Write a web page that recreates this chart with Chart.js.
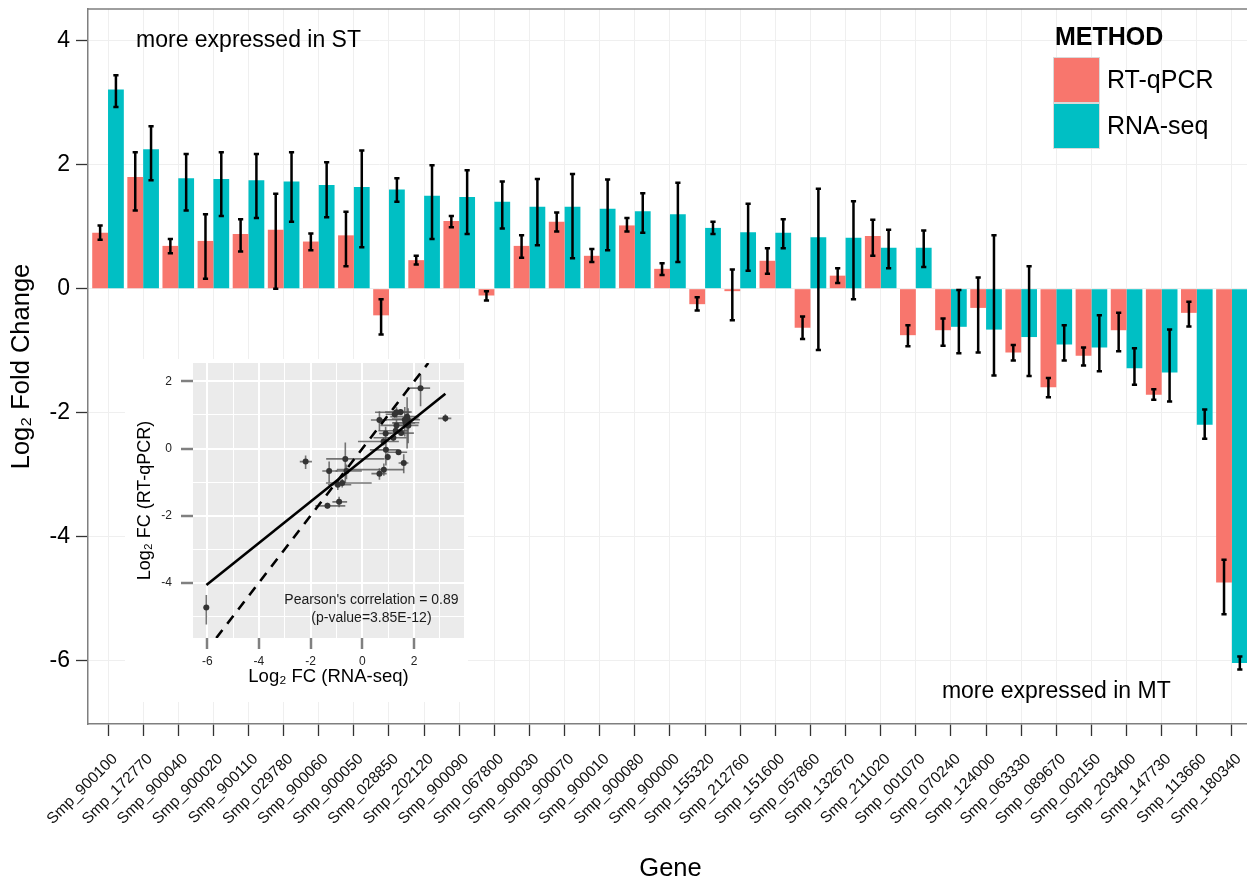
<!DOCTYPE html>
<html><head><meta charset="utf-8">
<script src="https://cdn.jsdelivr.net/npm/chart.js@4/dist/chart.umd.min.js"></script>
<style>
html,body{margin:0;padding:0;background:#fff;overflow:hidden;width:1247px;height:879px;}
#wrap{position:relative;width:1254px;height:879px;}
#main{position:absolute;left:0;top:0;}
#insetBox{position:absolute;left:125px;top:359px;width:343px;height:343px;background:#fff;}
</style></head><body>
<div id="wrap">
<canvas id="main" width="1254" height="879"></canvas>
<div id="insetBox"><canvas id="inset" width="343" height="343"></canvas></div>
</div>
<script>
// ---------- DATA ----------
const genes = ['Smp_900100','Smp_172770','Smp_900040','Smp_900020','Smp_900110','Smp_029780','Smp_900060','Smp_900050','Smp_028850','Smp_202120','Smp_900090','Smp_067800','Smp_900030','Smp_900070','Smp_900010','Smp_900080','Smp_900000','Smp_155320','Smp_212760','Smp_151600','Smp_057860','Smp_132670','Smp_211020','Smp_001070','Smp_070240','Smp_124000','Smp_063330','Smp_089670','Smp_002150','Smp_203400','Smp_147730','Smp_113660','Smp_180340'];

const qpcr     = [0.90, 1.80, 0.69, 0.77, 0.88, 0.95, 0.76, 0.86, -0.43, 0.46, 1.09, -0.11, 0.69, 1.08, 0.53, 1.02, 0.32, -0.25, -0.04, 0.45, -0.63, 0.21, 0.85, -0.75, -0.67, -0.31, -1.03, -1.59, -1.08, -0.67, -1.71, -0.39, -4.74];
const qpcrLow  = [0.79, 1.26, 0.57, 0.16, 0.60, 0.00, 0.62, 0.36, -0.74, 0.39, 0.99, -0.19, 0.50, 0.92, 0.43, 0.92, 0.22, -0.35, -0.51, 0.24, -0.81, 0.09, 0.53, -0.93, -0.92, -1.03, -1.16, -1.75, -1.24, -1.01, -1.79, -0.61, -5.25];
const qpcrHigh = [1.02, 2.20, 0.80, 1.20, 1.12, 1.53, 0.89, 1.24, -0.17, 0.53, 1.17, -0.04, 0.86, 1.23, 0.64, 1.14, 0.41, -0.14, 0.31, 0.65, -0.45, 0.33, 1.11, -0.59, -0.48, 0.18, -0.91, -1.44, -0.95, -0.39, -1.62, -0.21, -4.37];

const rnaseq     = [3.21, 2.25, 1.78, 1.77, 1.75, 1.73, 1.67, 1.64, 1.60, 1.50, 1.48, 1.40, 1.32, 1.32, 1.29, 1.25, 1.20, 0.98, 0.91, 0.90, 0.83, 0.82, 0.66, 0.66, -0.615, -0.66, -0.78, -0.90, -0.95, -1.285, -1.35, -2.195, -6.035];
const rnaseqLow  = [2.93, 1.75, 1.26, 1.17, 1.14, 1.08, 1.15, 0.67, 1.40, 0.80, 0.88, 0.97, 0.70, 0.49, 0.62, 0.90, 0.43, 0.88, 0.29, 0.65, -0.99, -0.17, 0.33, 0.35, -1.04, -1.40, -1.41, -1.16, -1.33, -1.55, -1.82, -2.42, -6.14];
const rnaseqHigh = [3.44, 2.62, 2.17, 2.20, 2.17, 2.20, 2.04, 2.23, 1.78, 1.99, 1.91, 1.73, 1.77, 1.85, 1.76, 1.54, 1.71, 1.08, 1.37, 1.12, 1.61, 1.41, 0.95, 0.94, -0.02, 0.86, 0.36, -0.59, -0.43, -0.96, -0.66, -1.95, -5.93];

const mainYTicks = [-6, -4, -2, 0, 2, 4];
const insetXTicks = [-6, -5, -4, -3, -2, -1, 0, 1, 2, 3];
const insetYTicks = [-5, -4, -3, -2, -1, 0, 1, 2];
const fitLine = [[-6.03, -4.07], [3.21, 1.63]];
const identityLine = [[-5.65, -5.65], [2.55, 2.55]];
const seriesNames = ['RT-qPCR', 'RNA-seq'];

// ---------- STYLE ----------
const FONT = "'Liberation Sans', Arial, Helvetica, sans-serif";
const RED = '#F8766D', CYAN = '#00BFC4';

const noPad = s => { s.paddingTop = 0; s.paddingBottom = 0; s.paddingLeft = 0; s.paddingRight = 0; };

const errorBars = {
  id: 'errorBars',
  afterDatasetsDraw(chart) {
    const {ctx, scales: {y}} = chart;
    ctx.save();
    ctx.strokeStyle = '#000';
    ctx.lineWidth = 2.5;
    chart.data.datasets.forEach((ds, di) => {
      const meta = chart.getDatasetMeta(di);
      meta.data.forEach((el, i) => {
        const lo = y.getPixelForValue(ds.errLow[i]);
        const hi = y.getPixelForValue(ds.errHigh[i]);
        const x = el.x;
        ctx.beginPath();
        ctx.moveTo(x, lo); ctx.lineTo(x, hi);
        ctx.moveTo(x - 2.6, lo); ctx.lineTo(x + 2.6, lo);
        ctx.moveTo(x - 2.6, hi); ctx.lineTo(x + 2.6, hi);
        ctx.stroke();
      });
    });
    ctx.restore();
  }
};

const decor = {
  id: 'decor',
  afterDraw(chart, args, opts) {
    const {ctx, chartArea: a, scales: {x, y}} = chart;
    ctx.save();
    ctx.strokeStyle = '#7F7F7F';
    ctx.lineWidth = 1.5;
    ctx.beginPath();
    ctx.moveTo(a.left, a.top); ctx.lineTo(a.right, a.top); ctx.lineTo(a.right, a.bottom);
    ctx.stroke();
    // annotations
    ctx.fillStyle = '#000';
    ctx.font = '23px ' + FONT;
    ctx.textAlign = 'center';
    ctx.textBaseline = 'middle';
    opts.notes.forEach(n => ctx.fillText(n.text, x.getPixelForValue(n.x), y.getPixelForValue(n.y)));
    // legend
    const L = opts.legend;
    ctx.textAlign = 'left';
    ctx.textBaseline = 'alphabetic';
    ctx.font = 'bold 25px ' + FONT;
    ctx.fillText(L.title, L.x + 2, L.titleY);
    ctx.font = '25px ' + FONT;
    ctx.textBaseline = 'middle';
    chart.data.datasets.forEach((ds, i) => {
      const top = L.y + i * L.h;
      ctx.fillStyle = ds.backgroundColor;
      ctx.fillRect(L.x, top, L.w, L.h);
      ctx.strokeStyle = '#D9D9D9';
      ctx.lineWidth = 1;
      ctx.strokeRect(L.x + 0.5, top + 0.5, L.w - 1, L.h - 1);
      ctx.fillStyle = '#000';
      ctx.fillText(ds.label, L.x + L.w + 7, top + L.h / 2 + 1);
    });
    ctx.restore();
  }
};

new Chart(document.getElementById('main').getContext('2d'), {
  type: 'bar',
  data: {
    datasets: [
      {label: seriesNames[0], data: qpcr.map((v, i) => ({x: i, y: v})), errLow: qpcrLow, errHigh: qpcrHigh, backgroundColor: RED},
      {label: seriesNames[1], data: rnaseq.map((v, i) => ({x: i, y: v})), errLow: rnaseqLow, errHigh: rnaseqHigh, backgroundColor: CYAN}
    ]
  },
  options: {
    responsive: false,
    animation: false,
    layout: {padding: {top: 9, right: 1, left: 0, bottom: 0}},
    datasets: {bar: {categoryPercentage: 0.9, barPercentage: 1.0}},
    plugins: {
      legend: {display: false},
      tooltip: {enabled: false},
      decor: {
        notes: [
          {text: 'more expressed in ST', x: 4, y: 4},
          {text: 'more expressed in MT', x: 27, y: -6.5}
        ],
        legend: {title: 'METHOD', x: 1053, y: 57, w: 47, h: 46, titleY: 45}
      }
    },
    scales: {
      x: {
        type: 'linear', min: -0.57, max: 32.6, offset: false,
        afterBuildTicks: s => { s.ticks = genes.map((g, i) => ({value: i})); },
        afterFit: s => { s.height = 155; noPad(s); },
        grid: {offset: false, color: '#EFEFEF', lineWidth: 1, tickColor: '#333', tickLength: 12, tickWidth: 1.3},
        border: {display: true, color: '#7F7F7F', width: 1.5},
        ticks: {autoSkip: false, minRotation: 45, maxRotation: 45, color: '#111',
                font: {family: FONT, size: 15.5}, padding: 14, labelOffset: 7, callback: v => genes[v]},
        title: {display: true, text: 'Gene', color: '#000', font: {family: FONT, size: 25.5, lineHeight: 0.8}, padding: {top: 0, bottom: 0}}
      },
      y: {
        type: 'linear', min: -7.02, max: 4.51,
        afterBuildTicks: s => { s.ticks = mainYTicks.map(v => ({value: v})); },
        afterFit: s => { s.width = 88; noPad(s); },
        grid: {color: '#EFEFEF', lineWidth: 1, tickColor: '#333', tickLength: 12, tickWidth: 1.3},
        border: {display: true, color: '#7F7F7F', width: 1.5},
        ticks: {color: '#000', font: {family: FONT, size: 23}, padding: 6},
        title: {display: true, text: 'Log₂ Fold Change', color: '#000', font: {family: FONT, size: 25.5, lineHeight: 1}, padding: {top: 9, bottom: 0}}
      }
    }
  },
  plugins: [errorBars, decor]
});

// ---------- INSET ----------
const insetPanel = {
  id: 'insetPanel',
  beforeDraw(chart) {
    const {ctx, chartArea: a} = chart;
    ctx.save();
    ctx.fillStyle = '#EBEBEB';
    ctx.fillRect(a.left, a.top, a.right - a.left, a.bottom - a.top);
    ctx.restore();
  },
  beforeDatasetsDraw(chart) {
    const {ctx, chartArea: a, scales: {x, y}} = chart;
    ctx.save();
    ctx.beginPath();
    ctx.rect(a.left, a.top, a.right - a.left, a.bottom - a.top);
    ctx.clip();
    ctx.strokeStyle = 'rgba(85,85,85,0.8)';
    ctx.lineWidth = 1.6;
    rnaseq.forEach((rv, i) => {
      const px = x.getPixelForValue(rv), py = y.getPixelForValue(qpcr[i]);
      ctx.beginPath();
      ctx.moveTo(x.getPixelForValue(rnaseqLow[i]), py);
      ctx.lineTo(x.getPixelForValue(rnaseqHigh[i]), py);
      ctx.moveTo(px, y.getPixelForValue(qpcrLow[i]));
      ctx.lineTo(px, y.getPixelForValue(qpcrHigh[i]));
      ctx.stroke();
    });
    ctx.restore();
  },
  afterDraw(chart, args, opts) {
    const {ctx, scales: {x, y}} = chart;
    ctx.save();
    ctx.fillStyle = '#1a1a1a';
    ctx.font = '14px ' + FONT;
    ctx.textAlign = 'center';
    ctx.textBaseline = 'middle';
    opts.notes.forEach(n => ctx.fillText(n.text, x.getPixelForValue(n.x), y.getPixelForValue(n.y)));
    ctx.restore();
  }
};

const even = c => c.tick && Math.abs(c.tick.value % 2) === 0;

new Chart(document.getElementById('inset').getContext('2d'), {
  type: 'scatter',
  data: {
    datasets: [
      {label: 'genes', data: rnaseq.map((v, i) => ({x: v, y: qpcr[i]})), pointRadius: 3,
       backgroundColor: '#333', borderColor: '#333', borderWidth: 0, order: 3},
      {label: 'fit', type: 'line', data: fitLine.map(([a, b]) => ({x: a, y: b})), borderColor: '#000',
       borderWidth: 2.6, pointRadius: 0, order: 1},
      {label: 'identity', type: 'line', data: identityLine.map(([a, b]) => ({x: a, y: b})), borderColor: '#000',
       borderWidth: 2.6, borderDash: [10, 8], pointRadius: 0, order: 2}
    ]
  },
  options: {
    responsive: false,
    animation: false,
    layout: {padding: {top: 3, right: 2, left: 0, bottom: 0}},
    plugins: {
      legend: {display: false},
      tooltip: {enabled: false},
      insetPanel: {
        notes: [
          {text: "Pearson's correlation = 0.89", x: 0.35, y: -4.52},
          {text: '(p-value=3.85E-12)', x: 0.35, y: -5.06}
        ]
      }
    },
    scales: {
      x: {
        type: 'linear', min: -6.55, max: 3.93,
        afterBuildTicks: s => { s.ticks = insetXTicks.map(v => ({value: v})); },
        afterFit: s => { s.height = 64; noPad(s); },
        grid: {color: '#FFFFFF', lineWidth: c => even(c) ? 2 : 1,
               tickColor: c => even(c) ? '#808080' : 'rgba(0,0,0,0)', tickLength: 11, tickWidth: 2.5},
        border: {display: false},
        ticks: {autoSkip: false, maxRotation: 0, color: '#222', font: {family: FONT, size: 12}, padding: 5,
                callback: v => (v % 2 === 0 ? String(v) : '')},
        title: {display: true, text: 'Log₂ FC (RNA-seq)', color: '#000', font: {family: FONT, size: 18.5, lineHeight: 1}, padding: {top: 0, bottom: 16}}
      },
      y: {
        type: 'linear', min: -5.65, max: 2.55,
        afterBuildTicks: s => { s.ticks = insetYTicks.map(v => ({value: v})); },
        afterFit: s => { s.width = 68; noPad(s); },
        grid: {color: '#FFFFFF', lineWidth: c => even(c) ? 2 : 1,
               tickColor: c => even(c) ? '#808080' : 'rgba(0,0,0,0)', tickLength: 12, tickWidth: 2.5},
        border: {display: false},
        ticks: {autoSkip: false, color: '#222', font: {family: FONT, size: 12}, padding: 9,
                callback: v => (v % 2 === 0 ? String(v) : '')},
        title: {display: true, text: 'Log₂ FC (RT-qPCR)', color: '#000', font: {family: FONT, size: 18, lineHeight: 1}, padding: {top: 11, bottom: 0}}
      }
    }
  },
  plugins: [insetPanel]
});
</script>
</body></html>
